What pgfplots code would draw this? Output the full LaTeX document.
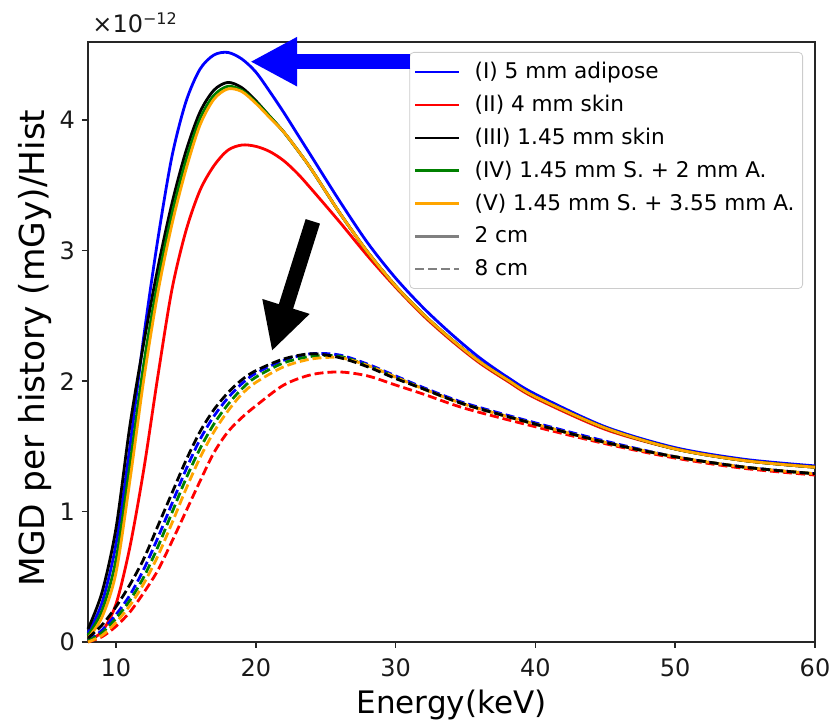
\documentclass[border=0pt]{standalone}
\usepackage{fontspec}
\setmainfont{DejaVu Sans}
\usepackage{pgfplots}
\pgfplotsset{compat=1.18}
\usepackage{pgfplotstable}
\usetikzlibrary{arrows.meta}

\definecolor{mplgreen}{RGB}{0,128,0}
\definecolor{mplorange}{RGB}{255,165,0}

% MGD per history, in units of 1e-12 mGy/Hist
% 2 cm breast (solid)
\pgfplotstableread{
x   I     II    III   IV    V
8   0.07  0.01  0.10  0.05  0.03
9   0.30  0.08  0.38  0.24  0.19
10  0.75  0.29  0.87  0.63  0.53
11  1.50  0.73  1.66  1.36  1.24
12  2.35  1.33  2.30  2.14  2.02
13  3.09  2.04  2.87  2.77  2.68
14  3.72  2.70  3.36  3.28  3.20
15  4.14  3.15  3.76  3.69  3.62
16  4.39  3.46  4.06  4.01  3.96
17  4.50  3.65  4.23  4.19  4.16
18  4.52  3.77  4.29  4.26  4.24
19  4.47  3.81  4.25  4.23  4.22
20  4.37  3.80  4.15  4.14  4.13
21  4.22  3.76  4.03  4.03  4.02
22  4.06  3.69  3.91  3.91  3.91
23  3.89  3.59  3.77  3.77  3.77
24  3.72  3.47  3.62  3.62  3.62
26  3.38  3.22  3.29  3.29  3.29
28  3.06  2.96  2.99  2.99  2.99
30  2.79  2.72  2.73  2.73  2.73
32  2.56  2.50  2.51  2.51  2.51
34  2.36  2.31  2.32  2.32  2.32
36  2.18  2.14  2.15  2.15  2.15
38  2.03  2.00  2.01  2.01  2.01
40  1.90  1.87  1.88  1.88  1.88
45  1.65  1.63  1.64  1.64  1.64
50  1.49  1.48  1.48  1.48  1.48
55  1.40  1.39  1.39  1.39  1.39
60  1.35  1.34  1.34  1.34  1.34
}\twocm

% 8 cm breast (dashed)
\pgfplotstableread{
x   I     II    III   IV    V
8   0.01  0.00  0.03  0.01  0.00
9   0.09  0.04  0.13  0.07  0.05
10  0.21  0.12  0.27  0.18  0.15
11  0.36  0.23  0.44  0.32  0.28
12  0.56  0.38  0.64  0.50  0.45
13  0.80  0.55  0.89  0.73  0.66
14  1.06  0.77  1.14  0.99  0.91
15  1.32  1.00  1.39  1.25  1.17
16  1.55  1.23  1.61  1.48  1.41
17  1.73  1.45  1.78  1.67  1.61
18  1.87  1.61  1.91  1.82  1.77
19  1.98  1.72  2.01  1.94  1.90
20  2.06  1.81  2.08  2.03  1.99
22  2.16  1.97  2.17  2.14  2.11
24  2.21  2.05  2.21  2.19  2.17
26  2.20  2.07  2.18  2.19  2.18
28  2.13  2.04  2.11  2.12  2.12
30  2.04  1.97  2.02  2.03  2.03
32  1.95  1.90  1.94  1.94  1.94
35  1.83  1.79  1.82  1.82  1.82
40  1.68  1.65  1.67  1.67  1.67
45  1.54  1.52  1.53  1.53  1.53
50  1.42  1.41  1.42  1.42  1.42
55  1.34  1.33  1.34  1.34  1.34
60  1.29  1.28  1.29  1.29  1.29
}\eightcm

\begin{document}
\begin{tikzpicture}
\begin{axis}[
    name=ax,
    scale only axis,
    width=363.5pt, height=300pt,
    xmin=8, xmax=60, ymin=0, ymax=4.6,
    xtick={10,20,...,60}, ytick={0,1,2,3,4},
    tick align=outside, xtick pos=bottom, ytick pos=left,
    major tick length=3pt,
    axis line style={line width=0.8pt, black!85},
    every tick/.style={black!85, line width=0.8pt},
    /pgf/number format/assume math mode=true,
    ticklabel style={font=\fontsize{12}{14}\selectfont, black!90},
    xticklabel style={yshift=-2pt},
    xlabel={Energy(keV)},
    ylabel={MGD per history (mGy)/Hist},
    xlabel style={font=\fontsize{15.5}{18}\selectfont, at={(axis description cs:0.5,-0.105)}, anchor=center},
    ylabel style={font=\fontsize{17.2}{20}\selectfont, at={(axis description cs:-0.0729,0.49)}, anchor=center},
    legend style={
        at={(rel axis cs:1,1)}, anchor=north east,
        xshift=-6pt, yshift=-5pt,
        draw=black!20, rounded corners=2pt,
        fill=white, fill opacity=0.8, text opacity=1,
        font=\fontsize{10.8}{13}\selectfont,
        row sep=2.75pt, inner xsep=2pt, inner ysep=3pt,
        /tikz/every odd column/.append style={column sep=5pt},
    },
    legend cell align=left,
    legend image code/.code={\draw[line width=1.4pt,#1] (0pt,0pt) -- (22pt,0pt);},
    every axis plot/.append style={line width=1.4pt, smooth},
    clip=false,
]

\addplot[blue] table[x=x, y=I] {\twocm};
\addlegendentry{(I) 5 mm adipose}
\addplot[red] table[x=x, y=II] {\twocm};
\addlegendentry{(II) 4 mm skin}
\addplot[black] table[x=x, y=III] {\twocm};
\addlegendentry{(III) 1.45 mm skin}
\addplot[mplgreen] table[x=x, y=IV] {\twocm};
\addlegendentry{(IV) 1.45 mm S. + 2 mm A.}
\addplot[mplorange] table[x=x, y=V] {\twocm};
\addlegendentry{(V) 1.45 mm S. + 3.55 mm A.}
\addlegendimage{gray}
\addlegendentry{2 cm}
\addlegendimage{gray, dash pattern=on 4.5pt off 2pt}
\addlegendentry{8 cm}

\addplot[blue, dash pattern=on 4.5pt off 2pt, forget plot] table[x=x, y=I] {\eightcm};
\addplot[red, dash pattern=on 4.5pt off 2pt, forget plot] table[x=x, y=II] {\eightcm};
\addplot[mplgreen, dash pattern=on 4.5pt off 2pt, forget plot] table[x=x, y=IV] {\eightcm};
\addplot[mplorange, dash pattern=on 4.5pt off 2pt, forget plot] table[x=x, y=V] {\eightcm};
\addplot[black, dash pattern=on 4.5pt off 2pt, forget plot] table[x=x, y=III] {\eightcm};

% arrow ends
\coordinate (bt) at (axis cs:31.05,4.449);
\coordinate (bh) at (axis cs:19.6,4.449);
\coordinate (kt) at (axis cs:24.08,3.225);
\coordinate (kh) at (axis cs:21.15,2.229);
\end{axis}

\draw[blue, line width=7.5pt, -{Triangle[width=23pt, length=23.5pt]}] (bt) -- (bh);
\draw[black, line width=7.5pt, -{Triangle[width=23pt, length=23.5pt]}] (kt) -- (kh);

\node[anchor=base west, inner sep=0pt, font=\fontsize{12}{14}\selectfont, black!90]
    at ([xshift=2pt, yshift=4.5pt]ax.north west) {×10\textsuperscript{−12}};

\pgfresetboundingbox
\path[use as bounding box] ([shift={(-44pt,-40.5pt)}]ax.south west) rectangle ([shift={(9pt,21pt)}]ax.north east);
\end{tikzpicture}
\end{document}
